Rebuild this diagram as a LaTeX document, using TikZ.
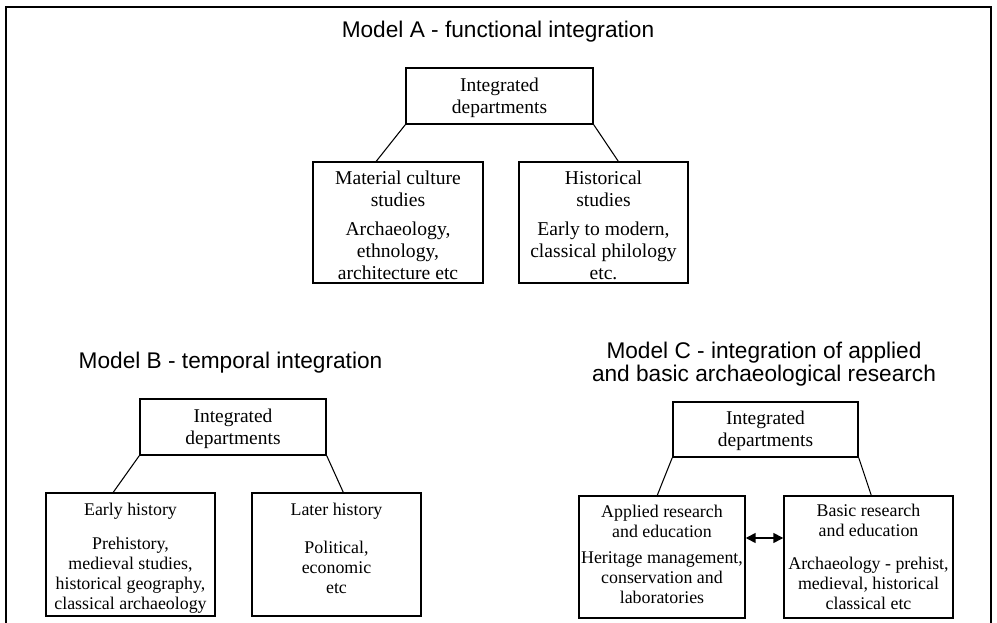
\documentclass[tikz,border=0pt]{standalone}
\usepackage{fontspec}
\setmainfont{Liberation Serif}
\setsansfont{Liberation Sans}
\usetikzlibrary{arrows.meta}

% invisible struts that pad the first line upward or the last line downward
\newcommand{\padup}[1]{\rule{0pt}{#1}}
\newcommand{\paddown}[1]{\rule[-#1]{0pt}{#1}}

\begin{document}
\begin{tikzpicture}[x=0.75pt,y=-0.75pt,
  box/.style={draw, line width=1.1pt, inner sep=0pt, align=center},
  topbox/.style={box, font=\fontsize{14.6}{16.5}\selectfont, minimum height=42pt},
  upperbox/.style={box, font=\fontsize{14.7}{16.5}\selectfont},
  lowerbox/.style={box, font=\fontsize{13.4}{15}\selectfont},
  heading/.style={font=\sffamily\fontsize{17}{17.3}\selectfont, inner sep=0pt, align=center},
  link/.style={line width=0.8pt},
  twoway/.style={line width=1.2pt, {Triangle[length=7.5pt,width=7.5pt]}-{Triangle[length=7.5pt,width=7.5pt]}},
]
\useasboundingbox (0,0) rectangle (997,623);

% outer frame, open at the bottom
\draw[line width=1.4pt] (6,624) -- (6,7) -- (991,7) -- (991,624);

% headings
\node[heading, anchor=base] (titleA) at (498,38) {Model A - functional integration};
\node[heading, anchor=base] (titleB) at (230.5,369) {Model B - temporal integration};
\node[heading, anchor=base] (titleC) at (764,382) {Model C - integration of applied\\and basic archaeological research};

% Model A
\node[topbox, minimum width=140.25pt] (atop) at (499.5,96) {\padup{13.5pt}Integrated\\departments};
\node[upperbox, minimum width=127.5pt, minimum height=90.75pt] (amat) at (398,222.5)
  {\padup{15pt}Material culture\\studies\\[5.25pt]Archaeology,\\ethnology,\\architecture etc};
\node[upperbox, minimum width=126.75pt, minimum height=90.75pt] (ahis) at (603.5,222.5)
  {\padup{15pt}Historical\\studies\\[5.25pt]Early to modern,\\classical philology\\etc.};

% Model B
\node[topbox, minimum width=139.5pt] (btop) at (233,427) {\padup{13.5pt}Integrated\\departments};
\node[lowerbox, minimum width=126.75pt, minimum height=92.25pt] (bear) at (130.5,554.5)
  {\padup{15pt}Early history\\[10.5pt]Prehistory,\\medieval studies,\\historical geography,\\classical archaeology};
\node[lowerbox, minimum width=126.75pt, minimum height=92.25pt] (blat) at (336.5,554.5)
  {Later history\\[13.5pt]Political,\\economic\\etc\paddown{9pt}};

% Model C
\node[topbox, minimum width=138.75pt, minimum height=41.25pt] (ctop) at (765.5,429.5) {\padup{12.5pt}Integrated\\departments};
\node[lowerbox, minimum width=124.5pt, minimum height=91.5pt] (capp) at (662,557)
  {Applied research\\and education\\[5pt]Heritage management,\\conservation and\\laboratories\paddown{4pt}};
\node[lowerbox, minimum width=126.75pt, minimum height=91.5pt] (cbas) at (868.5,557)
  {Basic research\\and education\\[10pt]Archaeology - prehist,\\medieval, historical\\classical etc};

% connectors
\draw[link] (atop.south west) -- ([xshift=48pt]amat.north west);
\draw[link] (atop.south east) -- ([xshift=75pt]ahis.north west);
\draw[link] (btop.south west) -- ([xshift=51pt]bear.north west);
\draw[link] (btop.south east) -- ([xshift=69pt]blat.north west);
\draw[link] (ctop.south west) -- ([xshift=59.25pt]capp.north west);
\draw[link] (ctop.south east) -- ([xshift=66pt]cbas.north west);
\draw[twoway] ([yshift=14.25pt]capp.east) -- ([yshift=14.25pt]cbas.west);
\end{tikzpicture}
\end{document}
